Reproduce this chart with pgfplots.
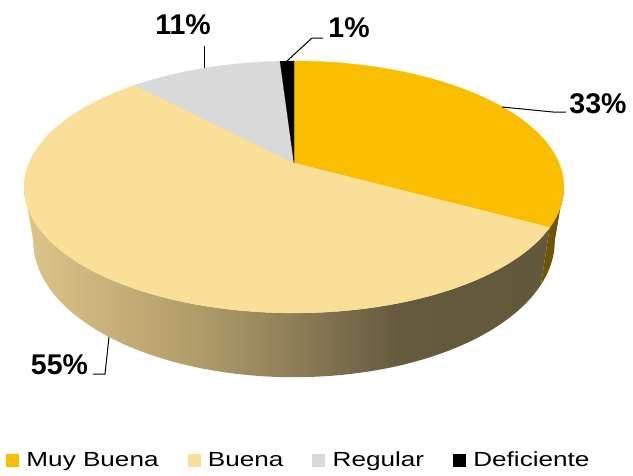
\documentclass[border=0pt]{standalone}
\usepackage{pgfplots}
\pgfplotsset{compat=1.18}
\usepackage{fontspec}
\setmainfont{Liberation Sans}
\definecolor{cMB}{RGB}{249,190,0}
\definecolor{cB}{RGB}{250,223,152}
\definecolor{cR}{RGB}{217,217,217}
\definecolor{cD}{RGB}{0,0,0}
\definecolor{sMB}{RGB}{112,85,0}
\pgfdeclarehorizontalshading{bside}{100bp}{rgb(0bp)=(0.867,0.773,0.537); rgb(25bp)=(0.867,0.773,0.537); rgb(41.7bp)=(0.69,0.612,0.416); rgb(51.2bp)=(0.549,0.486,0.337); rgb(60.7bp)=(0.392,0.353,0.243); rgb(75bp)=(0.384,0.345,0.235); rgb(100bp)=(0.384,0.345,0.235)}
% data (percent)
\def\vMB{33}
\def\vB{55}
\def\vR{11}
\def\vD{1}
\pgfmathsetmacro\aA{90}
\pgfmathsetmacro\aB{90-3.6*\vMB}
\pgfmathsetmacro\aC{\aB-3.6*\vB}
\pgfmathsetmacro\aD{\aC-3.6*\vR}
\pgfmathsetmacro\aE{\aD-3.6*\vD}
\newcommand\lbl{\fontsize{28.5}{30}\selectfont\bfseries}
\newcommand\leg{\fontsize{20.4}{22}\selectfont}
\newcommand\sideplot[3]{%
\addplot[forget plot, draw=none, #3, domain=0:2, samples=161]
 ({x<1 ? xt(#1+(#2-#1)*min(1,x/0.97)) : xb(#2-(#2-#1)*min(1,(x-1)/0.97))},
  {x<1 ? yt(#1+(#2-#1)*min(1,x/0.97)) : yb(#2-(#2-#1)*min(1,(x-1)/0.97))});
}
\begin{document}%
\begin{tikzpicture}
\useasboundingbox (0,0) rectangle (633pt,475pt);
\begin{axis}[
  at={(0,0)}, anchor=south west,
  width=633pt, height=475pt, scale only axis,
  xmin=0, xmax=633, ymin=0, ymax=475, y dir=reverse,
  hide axis, clip=false,
  declare function={
    pd(\p)=1+0.1905*sin(\p);
    xt(\p)=294+265*cos(\p)/pd(\p);
    yt(\p)=163-121.4*sin(\p)/pd(\p);
    xb(\p)=294+256*cos(\p)/pd(\p);
    yb(\p)=163+(52-121.4*sin(\p))/pd(\p);
  },
  legend columns=4,
  legend style={at={(axis cs:6,460)}, anchor=west, draw=none, fill=none,
    inner sep=0pt, font=\leg,
    nodes={inner sep=0pt},
    /tikz/every odd column/.append style={column sep=8pt},
    /tikz/every even column/.append style={column sep=29pt}},
  legend image code/.code={\fill[#1] (0pt,-6pt) rectangle (12pt,6pt);},
]
% side walls
\sideplot{-169}{\aB}{shading=bside}
\sideplot{\aB}{-11}{fill=sMB}
% top faces
\addplot[fill=cMB, draw=cMB, line width=0.3pt, domain=\aB:\aA, samples=80] ({xt(x)},{yt(x)}) -- (axis cs:294,163) -- cycle;
\addlegendentry{\scalebox{1.28}[1]{Muy Buena}}
\addplot[fill=cB, draw=cB, line width=0.3pt, domain=\aC:\aB, samples=160] ({xt(x)},{yt(x)}) -- (axis cs:294,163) -- cycle;
\addlegendentry{\scalebox{1.28}[1]{Buena}}
\addplot[fill=cR, draw=cR, line width=0.3pt, domain=\aD:\aC, samples=40] ({xt(x)},{yt(x)}) -- (axis cs:294,163) -- cycle;
\addlegendentry{\scalebox{1.28}[1]{Regular}}
\addplot[fill=cD, draw=cD, line width=0.2pt, domain=\aE:\aD, samples=10] ({xt(x)},{yt(x)}) -- (axis cs:294,163) -- cycle;
\addlegendentry{\scalebox{1.28}[1]{Deficiente}}
% leader lines
\addplot[forget plot, black, line width=1pt] coordinates {(502,107) (553,112) (566,112)};
\addplot[forget plot, black, line width=1pt] coordinates {(109,337) (105,374) (93,374)};
\addplot[forget plot, black, line width=1pt] coordinates {(204,68) (204,46)};
\addplot[forget plot, black, line width=1pt] coordinates {(287,61) (312,38) (323,38)};
% labels
\node[anchor=base, inner sep=0pt] at (axis cs:598,113) {\lbl 33\%};
\node[anchor=base, inner sep=0pt] at (axis cs:59.5,374) {\lbl 55\%};
\node[anchor=base, inner sep=0pt] at (axis cs:183,34) {\lbl 11\%};
\node[anchor=base, inner sep=0pt] at (axis cs:349,37) {\lbl 1\%};
\end{axis}
\end{tikzpicture}%
\end{document}
